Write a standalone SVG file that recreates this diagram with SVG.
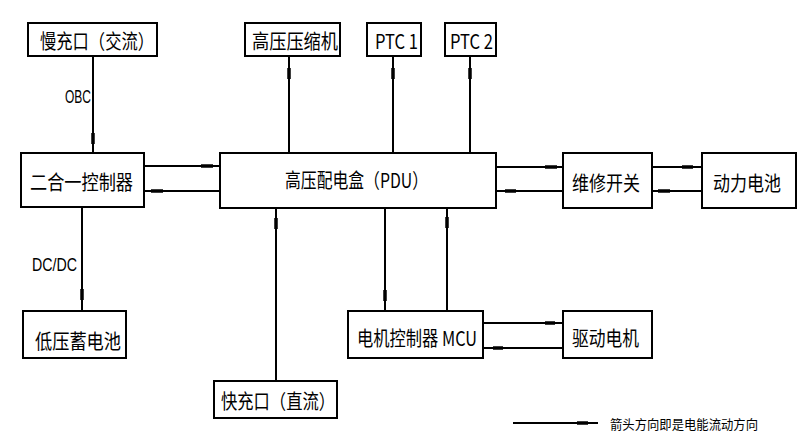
<svg xmlns="http://www.w3.org/2000/svg" width="803" height="440" viewBox="0 0 803 440">
<style>
.box{fill:#fff;stroke:#000;stroke-width:2}
.t{font-family:"Noto Sans CJK SC","Liberation Sans",sans-serif;font-size:20px;fill:#000;text-anchor:start;dominant-baseline:central}
.lbl{font-family:"Liberation Sans","Noto Sans CJK SC",sans-serif;font-size:18px;fill:#000;dominant-baseline:central}
.ln{stroke:#000;stroke-width:2;fill:none}
.ah{stroke:#000;stroke-width:3.5;fill:none}
.lg{font-family:"Noto Sans CJK SC",sans-serif;font-size:13px;fill:#000;dominant-baseline:central}
</style>
<rect width="803" height="440" fill="#fff"/>
<g id="slow"><rect class="box" x="28" y="23" width="129" height="33"/><text class="t" x="40" y="40" textLength="114" lengthAdjust="spacingAndGlyphs">慢充口（交流）</text></g>
<g id="combo"><rect class="box" x="21" y="153" width="123" height="54"/><text class="t" x="30" y="181" textLength="103" lengthAdjust="spacingAndGlyphs">二合一控制器</text></g>
<g id="lowbat"><rect class="box" x="23" y="311" width="103" height="47"/><text class="t" x="35" y="340" textLength="86" lengthAdjust="spacingAndGlyphs">低压蓄电池</text></g>
<g id="compressor"><rect class="box" x="245" y="23" width="95" height="33"/><text class="t" x="252" y="40" textLength="86" lengthAdjust="spacingAndGlyphs">高压压缩机</text></g>
<g id="ptc1"><rect class="box" x="367" y="23" width="54" height="33"/><text class="t" x="375" y="40" textLength="43" lengthAdjust="spacingAndGlyphs">PTC 1</text></g>
<g id="ptc2"><rect class="box" x="445" y="23" width="51" height="33"/><text class="t" x="450" y="40" textLength="43" lengthAdjust="spacingAndGlyphs">PTC 2</text></g>
<g id="pdu"><rect class="box" x="220" y="153" width="276" height="55"/><text class="t" x="285" y="179" textLength="143" lengthAdjust="spacingAndGlyphs">高压配电盒（PDU）</text></g>
<g id="service"><rect class="box" x="563" y="153" width="89" height="55"/><text class="t" x="572" y="182" textLength="68" lengthAdjust="spacingAndGlyphs">维修开关</text></g>
<g id="battery"><rect class="box" x="702" y="153" width="94" height="55"/><text class="t" x="713" y="182" textLength="68" lengthAdjust="spacingAndGlyphs">动力电池</text></g>
<g id="mcu"><rect class="box" x="348" y="311" width="135" height="47"/><text class="t" x="357" y="337" textLength="120" lengthAdjust="spacingAndGlyphs">电机控制器 MCU</text></g>
<g id="motor"><rect class="box" x="563" y="311" width="89" height="47"/><text class="t" x="572" y="337" textLength="67" lengthAdjust="spacingAndGlyphs">驱动电机</text></g>
<g id="fast"><rect class="box" x="214" y="381" width="123" height="37"/><text class="t" x="221" y="400" textLength="114" lengthAdjust="spacingAndGlyphs">快充口（直流）</text></g>
<g id="connectors">
<line class="ln" x1="93" y1="56" x2="93" y2="153"/><line class="ah" x1="93" y1="133" x2="93" y2="144"/>
<text class="lbl" x="65" y="97" textLength="26" lengthAdjust="spacingAndGlyphs">OBC</text>
<line class="ln" x1="144" y1="166" x2="220" y2="166"/><line class="ah" x1="201" y1="166" x2="213" y2="166"/>
<line class="ln" x1="144" y1="191" x2="220" y2="191"/><line class="ah" x1="151" y1="191" x2="163" y2="191"/>
<line class="ln" x1="82" y1="207" x2="82" y2="311"/><line class="ah" x1="82" y1="289" x2="82" y2="300"/>
<text class="lbl" x="32" y="265" textLength="45" lengthAdjust="spacingAndGlyphs">DC/DC</text>
<line class="ln" x1="289" y1="153" x2="289" y2="56"/><line class="ah" x1="289" y1="79" x2="289" y2="68"/>
<line class="ln" x1="393" y1="153" x2="393" y2="56"/><line class="ah" x1="393" y1="79" x2="393" y2="68"/>
<line class="ln" x1="470" y1="153" x2="470" y2="56"/><line class="ah" x1="470" y1="79" x2="470" y2="68"/>
<line class="ln" x1="496" y1="167" x2="563" y2="167"/><line class="ah" x1="545" y1="167" x2="557" y2="167"/>
<line class="ln" x1="496" y1="191" x2="563" y2="191"/><line class="ah" x1="505" y1="191" x2="516" y2="191"/>
<line class="ln" x1="652" y1="167" x2="702" y2="167"/><line class="ah" x1="682" y1="167" x2="693" y2="167"/>
<line class="ln" x1="652" y1="191" x2="702" y2="191"/><line class="ah" x1="658" y1="191" x2="670" y2="191"/>
<line class="ln" x1="276" y1="381" x2="276" y2="208"/><line class="ah" x1="276" y1="229" x2="276" y2="218"/>
<line class="ln" x1="385" y1="208" x2="385" y2="311"/><line class="ah" x1="385" y1="290" x2="385" y2="301"/>
<line class="ln" x1="447" y1="311" x2="447" y2="208"/><line class="ah" x1="447" y1="228" x2="447" y2="217"/>
<line class="ln" x1="483" y1="323" x2="563" y2="323"/><line class="ah" x1="545" y1="323" x2="555" y2="323"/>
<line class="ln" x1="483" y1="348" x2="563" y2="348"/><line class="ah" x1="493" y1="348" x2="503" y2="348"/>
</g>
<g id="legend">
<line class="ln" x1="513" y1="423" x2="598" y2="423"/><line class="ah" x1="577" y1="423" x2="588" y2="423"/>
<text class="lg" x="610" y="423" textLength="148" lengthAdjust="spacingAndGlyphs">箭头方向即是电能流动方向</text>
</g>
</svg>
